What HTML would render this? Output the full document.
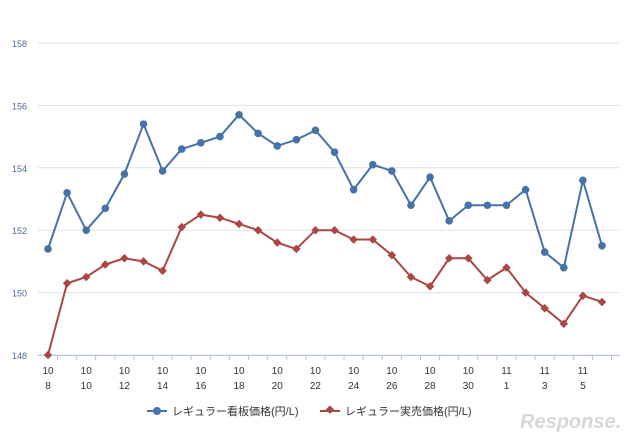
<!DOCTYPE html>
<html><head><meta charset="utf-8"><style>
body{margin:0;background:#fff;}
svg{display:block;font-family:"Liberation Sans","Noto Sans CJK JP",sans-serif;}
</style></head><body>
<svg width="640" height="439" viewBox="0 0 640 439" xmlns="http://www.w3.org/2000/svg">
<g id="grid"></g>
<g id="ylabels"></g>
<g id="xlabels"></g>
<g id="series"></g>
<g>
  <g>
    <line x1="147" y1="411" x2="167" y2="411" stroke="#4572a7" stroke-width="2"/>
    <circle cx="157" cy="411" r="4" fill="#4572a7"/>
    <text x="172" y="415" font-size="11" fill="#333">レギュラー看板価格(円/L)</text>
  </g>
  <g>
    <line x1="320" y1="411" x2="340" y2="411" stroke="#aa4643" stroke-width="2"/>
    <rect x="326" y="407" width="6" height="6" fill="#aa4643" transform="rotate(45 330 411)"/>
    <text x="345" y="415" font-size="11" fill="#333">レギュラー実売価格(円/L)</text>
  </g>
</g>
<g>
  <text x="520" y="428" font-size="20" font-style="italic" font-weight="bold" fill="#d8d8d8">Response.</text>
</g>
</svg>
<script>
const categories=["10/8","10/9","10/10","10/11","10/12","10/13","10/14","10/15","10/16","10/17","10/18","10/19","10/20","10/21","10/22","10/23","10/24","10/25","10/26","10/27","10/28","10/29","10/30","10/31","11/1","11/2","11/3","11/4","11/5","11/6"];
const signboard=[151.4,153.2,152.0,152.7,153.8,155.4,153.9,154.6,154.8,155.0,155.7,155.1,154.7,154.9,155.2,154.5,153.3,154.1,153.9,152.8,153.7,152.3,152.8,152.8,152.8,153.3,151.3,150.8,153.6,151.5];
const actual=[148.0,150.3,150.5,150.9,151.1,151.0,150.7,152.1,152.5,152.4,152.2,152.0,151.6,151.4,152.0,152.0,151.7,151.7,151.2,150.5,150.2,151.1,151.1,150.4,150.8,150.0,149.5,149.0,149.9,149.7];
const yTicks=[148,150,152,154,156,158];
const NS="http://www.w3.org/2000/svg";
const X=i=>48+i*(602-48)/(categories.length-1);
const Y=v=>355-(v-148)*(355-43)/10;
function mk(t,a,p){const e=document.createElementNS(NS,t);for(const k in a)e.setAttribute(k,a[k]);p.appendChild(e);return e;}
const grid=document.getElementById('grid'),yl=document.getElementById('ylabels'),xl=document.getElementById('xlabels'),sr=document.getElementById('series');
yTicks.forEach(v=>{
  const l=mk('line',{x1:38,x2:620,y1:Y(v),y2:Y(v),stroke:'#dde3ea','stroke-width':1},grid);
  
  
  const t=mk('text',{x:12,y:Y(v)+4,'font-size':9,fill:'#4d6a96'},yl);t.textContent=v;
  
  
});
mk('line',{x1:38,x2:620,y1:355.5,y2:355.5,stroke:'#b8c4d4','stroke-width':1},grid);
categories.forEach((c,i)=>{
  const x=X(i);
  mk('line',{x1:x+9.5,x2:x+9.5,y1:355,y2:360,stroke:'#b8c4d4'},grid);
  if(i%2===0){
    const [m,d]=c.split('/');
    const t1=mk('text',{x:x,y:374,'font-size':10,fill:'#333','text-anchor':'middle'},xl);t1.textContent=m;
    
    
    const t2=mk('text',{x:x,y:389,'font-size':10,fill:'#333','text-anchor':'middle'},xl);t2.textContent=d;
    
    
  }
});
function line(data,color,name,diamond){
  const p=mk('polyline',{points:data.map((v,i)=>X(i)+','+Y(v)).join(' '),fill:'none',stroke:color,'stroke-width':2},sr);
  
  
  data.forEach((v,i)=>{
    let m;
    if(diamond){m=mk('rect',{x:X(i)-3,y:Y(v)-3,width:6,height:6,fill:color,transform:`rotate(45 ${X(i)} ${Y(v)})`},sr);}
    else{m=mk('circle',{cx:X(i),cy:Y(v),r:3.8,fill:color},sr);}
    
    
  });
}
line(signboard,'#4572a7','signboard',false);
line(actual,'#aa4643','actual',true);
</script>
</body></html>
